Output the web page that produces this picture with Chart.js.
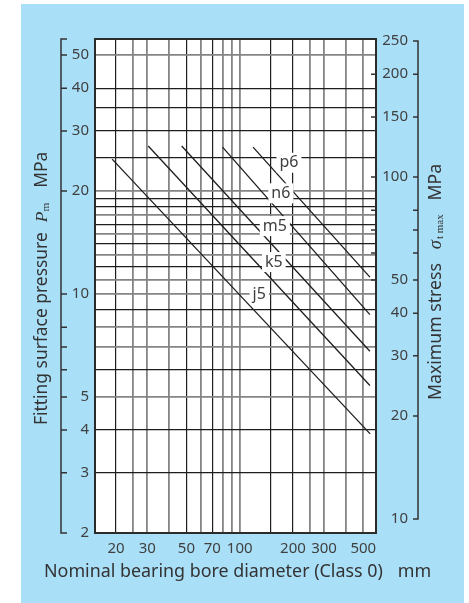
<!DOCTYPE html>
<html>
<head>
<meta charset="utf-8">
<script src="https://cdn.jsdelivr.net/npm/chart.js@4.4.1/dist/chart.umd.min.js"></script>
<style>
  html, body { margin: 0; background: #fff; }
  #panel { position: absolute; left: 21px; top: 4px; width: 443px; height: 599px; background: #aadff8; }
</style>
</head>
<body>
<div id="panel"><canvas id="fitChart" width="443" height="599"></canvas></div>
<script>
// fit classes and their pressure lines (start / end of each line)
const fitClasses = ['j5', 'k5', 'm5', 'n6', 'p6']
const boreFrom = [19, 30.4, 47, 80, 119]
const boreTo = [547, 545, 545, 545, 545]
const pressureFrom = [24.8, 27.1, 27.1, 26.9, 26.9]
const pressureTo = [3.9, 5.4, 6.8, 8.7, 11.2]

// axes
const boreGridTicks = [20, 25, 30, 40, 50, 60, 70, 80, 90, 100, 150, 200, 250, 300, 400, 500]
const boreTickLabels = [20, 30, 50, 70, 100, 200, 300, 500]
const boreDarkLines = [20, 50, 70, 150, 200]
const pressureGridTicks = [2, 3, 4, 5, 6, 7, 8, 9, 10, 11, 12, 13, 14, 15, 16, 17, 18, 19, 20, 25, 30, 35, 40, 50]
const pressureTickLabels = [2, 3, 4, 5, 10, 20, 30, 40, 50]
const pressureMinorMarks = [6, 7, 8]
const pressureDarkLines = [3, 4, 6, 9, 12, 14, 16, 18, 19, 25, 30, 35, 40]
const stressTickLabels = [10, 20, 30, 40, 50, 100, 150, 200, 250]
const stressMinorMarks = [60, 70, 80]
const stressInnerMarks = [50, 60, 70, 80, 100, 150, 200]
const stressPerPressure = 4.55

const PRESSURE_MIN = 2
const PRESSURE_MAX = 55.7
const DARK = '#1e1e1e'
const GREY = '#858585'
const TEXT = '#404040'
const SANS = '"Noto Sans"'

function gridStyle(darkList) {
  const isDark = c => c.tick && darkList.includes(c.tick.value)
  return {
    color: c => isDark(c) ? DARK : GREY,
    lineWidth: c => isDark(c) ? 1.2 : 1.8,
    drawTicks: false
  }
}

function drawRuns(ctx, runs) {
  let pos = 0
  runs.forEach(r => {
    pos += r.gap || 0
    ctx.font = r.font
    ctx.fillText(r.text, pos, r.shift || 0)
    pos += ctx.measureText(r.text).width
  })
}

function fitSize(ctx, text, width) {
  ctx.font = `16px ${SANS}`
  return 16 * width / ctx.measureText(text).width
}

const decorations = {
  id: 'decorations',
  beforeDraw(chart) {
    const { ctx, chartArea: a } = chart
    ctx.save()
    ctx.fillStyle = '#fff'
    ctx.fillRect(a.left, a.top, a.right - a.left, a.bottom - a.top)
    ctx.restore()
  },
  afterDatasetsDraw(chart) {
    const { ctx, chartArea: a, scales: { x, y } } = chart
    // curve names sit in white boxes on top of the grid
    const spots = [[129, 10.0], [156, 12.4], [158, 15.8], [171, 19.7], [190, 24.2]]
    ctx.save()
    ctx.font = `16px ${SANS}`
    ctx.textAlign = 'center'
    ctx.textBaseline = 'middle'
    fitClasses.forEach((name, i) => {
      const px = x.getPixelForValue(spots[i][0])
      const py = y.getPixelForValue(spots[i][1])
      const w = ctx.measureText(name).width + 6
      ctx.fillStyle = '#fff'
      ctx.fillRect(px - w / 2, py - 10, w, 20)
      ctx.fillStyle = TEXT
      ctx.fillText(name, px, py)
    })
    ctx.strokeStyle = '#2b2b2b'
    ctx.lineWidth = 2
    ctx.strokeRect(a.left, a.top, a.right - a.left, a.bottom - a.top)
    ctx.restore()
  },
  afterDraw(chart) {
    const { ctx, chartArea: a, scales: { y, y2 } } = chart
    ctx.save()
    ctx.strokeStyle = '#333'
    ctx.lineWidth = 1.5

    // left bracket axis
    const lx = 40
    ctx.beginPath()
    ctx.moveTo(lx + 6, a.top); ctx.lineTo(lx, a.top); ctx.lineTo(lx, a.bottom); ctx.lineTo(lx + 6, a.bottom)
    pressureTickLabels.concat(pressureMinorMarks).filter(v => v > PRESSURE_MIN).forEach(v => {
      const py = y.getPixelForValue(v)
      ctx.moveTo(lx, py); ctx.lineTo(lx + 6, py)
    })
    ctx.stroke()

    // right bracket axis
    const rx = 397
    const top = y2.getPixelForValue(250)
    const bot = y2.getPixelForValue(10)
    ctx.beginPath()
    ctx.moveTo(rx - 5, top); ctx.lineTo(rx, top); ctx.lineTo(rx, bot); ctx.lineTo(rx - 5, bot)
    stressTickLabels.concat(stressMinorMarks).filter(v => v > 10 && v < 250).forEach(v => {
      const py = y2.getPixelForValue(v)
      ctx.moveTo(rx, py); ctx.lineTo(rx - 5, py)
    })
    ctx.stroke()

    // short marks inside the right edge of the plot
    ctx.beginPath()
    stressInnerMarks.forEach(v => {
      const py = y2.getPixelForValue(v)
      ctx.moveTo(a.right - 5, py); ctx.lineTo(a.right, py)
    })
    ctx.stroke()

    // titles
    ctx.fillStyle = '#333'
    ctx.textAlign = 'left'
    ctx.textBaseline = 'middle'

    let s = fitSize(ctx, 'Fitting surface pressure', 193)
    ctx.save()
    ctx.translate(21, 421)
    ctx.rotate(-Math.PI / 2)
    drawRuns(ctx, [
      { text: 'Fitting surface pressure', font: `${s}px ${SANS}` },
      { text: 'P', font: `italic ${s}px "Liberation Serif"`, gap: 10 },
      { text: 'm', font: `${s * 0.65}px "Liberation Serif"`, shift: 4 },
      { text: 'MPa', font: `${s}px ${SANS}`, gap: 15 }
    ])
    ctx.restore()

    s = fitSize(ctx, 'Maximum stress', 137)
    ctx.save()
    ctx.translate(415, 396)
    ctx.rotate(-Math.PI / 2)
    drawRuns(ctx, [
      { text: 'Maximum stress', font: `${s}px ${SANS}` },
      { text: 'σ', font: `italic ${s * 1.05}px "Liberation Serif"`, gap: 14 },
      { text: 't max', font: `${s * 0.62}px "Liberation Serif"`, shift: 4, gap: 1 },
      { text: 'MPa', font: `${s}px ${SANS}`, gap: 14 }
    ])
    ctx.restore()

    s = fitSize(ctx, 'Nominal bearing bore diameter (Class 0)', 339)
    ctx.save()
    ctx.translate(23, 568)
    drawRuns(ctx, [
      { text: 'Nominal bearing bore diameter (Class 0)', font: `${s}px ${SANS}` },
      { text: 'mm', font: `${s}px ${SANS}`, gap: 15 }
    ])
    ctx.restore()

    ctx.restore()
  }
}

new Chart(document.getElementById('fitChart'), {
  type: 'line',
  data: {
    datasets: fitClasses.map((name, i) => ({
      label: name,
      data: [{ x: boreFrom[i], y: pressureFrom[i] }, { x: boreTo[i], y: pressureTo[i] }],
      borderColor: DARK,
      borderWidth: 1.3,
      pointRadius: 0,
      fill: false,
      tension: 0
    }))
  },
  options: {
    responsive: false,
    animation: false,
    devicePixelRatio: 1,
    layout: { padding: { top: 35, left: 0, right: 56, bottom: 30 } },
    plugins: { legend: { display: false }, tooltip: { enabled: false } },
    scales: {
      x: {
        type: 'logarithmic',
        min: 15.2,
        max: 590,
        afterBuildTicks: s => { s.ticks = boreGridTicks.map(v => ({ value: v })) },
        afterFit: s => { s.height = 40 },
        grid: gridStyle(boreDarkLines),
        border: { display: false },
        ticks: {
          autoSkip: false,
          maxRotation: 0,
          padding: 7,
          color: TEXT,
          font: { family: 'Noto Sans', size: 15 },
          callback: v => boreTickLabels.includes(v) ? String(v) : ''
        }
      },
      y: {
        type: 'logarithmic',
        min: PRESSURE_MIN,
        max: PRESSURE_MAX,
        afterBuildTicks: s => { s.ticks = pressureGridTicks.map(v => ({ value: v })) },
        afterFit: s => { s.width = 74 },
        grid: gridStyle(pressureDarkLines),
        border: { display: false },
        ticks: {
          autoSkip: false,
          padding: 6,
          color: TEXT,
          font: { family: 'Noto Sans', size: 15 },
          callback: v => pressureTickLabels.includes(v) ? String(v) : ''
        }
      },
      y2: {
        type: 'logarithmic',
        position: 'right',
        min: PRESSURE_MIN * stressPerPressure,
        max: PRESSURE_MAX * stressPerPressure,
        afterBuildTicks: s => { s.ticks = stressTickLabels.map(v => ({ value: v })) },
        afterFit: s => { s.width = 32 },
        grid: { drawOnChartArea: false, drawTicks: false },
        border: { display: false },
        ticks: {
          autoSkip: false,
          crossAlign: 'far',
          padding: 0,
          color: TEXT,
          font: { family: 'Noto Sans', size: 15 },
          callback: v => String(v)
        }
      }
    }
  },
  plugins: [decorations]
})
</script>
</body>
</html>
